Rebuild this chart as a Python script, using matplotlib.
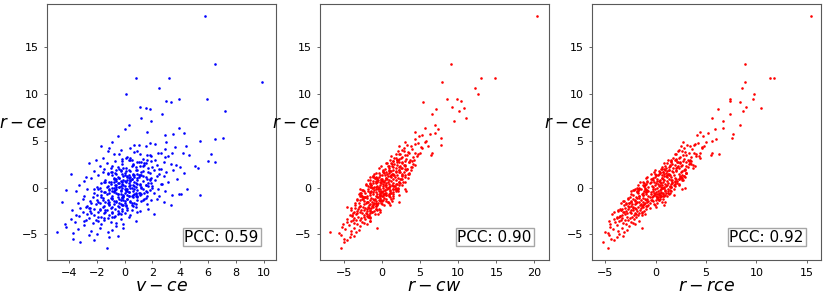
import matplotlib
matplotlib.use('Agg')
import matplotlib.pyplot as plt

# r - ce values (shared y of all three panels)
y = [
    # outliers / tail
    18.4, 13.2, 11.75, 11.7, 11.25, 10.7, 10.0, 9.5, 9.5, 9.3,
    9.2, 8.6, 8.5, 8.4, 8.2, 7.9, 7.4, 7.1, 6.7, 6.4,
    6.3, 5.7, 5.6, 5.3, 5.2, 5.0,
    # band 4..5
    4.9, 4.7, 4.5, 4.4, 4.3, 4.2, 4.1, 4.6, 4.8, 4.0,
    # band 3..4
    3.9, 3.8, 3.7, 3.6, 3.5, 3.4, 3.3, 3.2, 3.1, 3.0,
    3.95, 3.75, 3.55, 3.45, 3.25, 3.15, 3.05, 3.65,
    # band 2..3
    2.95, 2.9, 2.85, 2.8, 2.75, 2.7, 2.65, 2.6, 2.55, 2.5,
    2.45, 2.4, 2.35, 2.3, 2.25, 2.2, 2.15, 2.1, 2.05, 2.0,
    2.92, 2.68, 2.42, 2.18, 2.72, 2.33,
    # band 1..2
    1.97, 1.93, 1.9, 1.86, 1.82, 1.78, 1.74, 1.7, 1.66, 1.62,
    1.58, 1.54, 1.5, 1.46, 1.42, 1.38, 1.34, 1.3, 1.26, 1.22,
    1.18, 1.14, 1.1, 1.06, 1.02, 1.88, 1.64, 1.44, 1.24, 1.08,
    1.56, 1.32,
    # band 0..1
    0.98, 0.95, 0.92, 0.89, 0.86, 0.83, 0.8, 0.77, 0.74, 0.71,
    0.68, 0.65, 0.62, 0.59, 0.56, 0.53, 0.5, 0.47, 0.44, 0.41,
    0.38, 0.35, 0.32, 0.29, 0.26, 0.23, 0.2, 0.17, 0.14, 0.11,
    0.08, 0.05, 0.02, 0.9, 0.6, 0.3, 0.15, 0.72,
    # band -1..0
    -0.02, -0.05, -0.08, -0.11, -0.14, -0.17, -0.2, -0.23, -0.26, -0.29,
    -0.32, -0.35, -0.38, -0.41, -0.44, -0.47, -0.5, -0.53, -0.56, -0.59,
    -0.62, -0.65, -0.68, -0.71, -0.74, -0.77, -0.8, -0.83, -0.86, -0.89,
    -0.92, -0.95, -0.98, -0.1, -0.4, -0.7, -0.9, -0.25, -0.55, -0.85,
    # band -2..-1
    -1.02, -1.05, -1.08, -1.11, -1.14, -1.17, -1.2, -1.23, -1.26, -1.29,
    -1.32, -1.35, -1.38, -1.41, -1.44, -1.47, -1.5, -1.53, -1.56, -1.59,
    -1.62, -1.65, -1.68, -1.71, -1.74, -1.77, -1.8, -1.83, -1.86, -1.89,
    -1.92, -1.95, -1.98, -1.3, -1.6, -1.9,
    # band -3..-2
    -2.03, -2.07, -2.1, -2.13, -2.17, -2.2, -2.23, -2.27, -2.3, -2.33,
    -2.37, -2.4, -2.43, -2.47, -2.5, -2.53, -2.57, -2.6, -2.63, -2.67,
    -2.7, -2.73, -2.77, -2.8, -2.83, -2.87, -2.9, -2.93, -2.97, -2.45,
    # band -4..-3
    -3.05, -3.1, -3.15, -3.2, -3.25, -3.3, -3.35, -3.4, -3.45, -3.5,
    -3.55, -3.6, -3.65, -3.7, -3.75, -3.8, -3.85, -3.9, -3.95, -3.48,
    # band -5..-4
    -4.05, -4.15, -4.25, -4.35, -4.45, -4.55, -4.65, -4.75, -4.85, -4.95,
    # band -6..-5
    -5.1, -5.3, -5.45, -5.6, -5.2,
    # extras
    -4.7, -5.85, -6.5, 1.5, -1.5, -0.8, -0.7, -0.7, 3.6, 2.8,
    2.7, 2.3, 2.1, 4.5, -0.35, -4.3, 0.0,
    5.9, 5.5, 4.9, 4.6, 3.7, 3.5, 4.2, 5.8,
    # dense core
    2.6, -0.4, 1.1, -1.8, 0.3, -2.7, 1.9, -0.9, 0.6, -1.3,
    -0.1, 3.2, -2.2, 0.9, -1.1, 1.6, -3.1, 0.1, 2.2, -0.6,
    1.3, -1.6, 0.5, -0.2, 2.9, -2.4, 0.8, -0.7, 1.7, -1.0,
    -0.3, 0.2, -1.9, 1.4, -0.8, 2.4, -1.4, 0.0, -2.9, 1.0,
    0.7, -1.2, 1.8, -0.5, -2.1, 0.4, -0.9, 2.0, -1.7, 3.4,
    -0.6, 1.2, -2.5, 0.1, -1.5, 0.9, -0.2, 1.5, -3.3, 0.4,
    2.1, -1.0, 0.6, -0.1, -2.3, 1.1, -1.3, 0.3, 2.7, -0.8,
    -1.8, 0.5, -0.4, 1.9, -2.6, 0.0, 1.4, -1.1, 0.8, -0.3,
    1.6, -2.0, 0.2, -0.7, 3.0, -1.4, 0.9, -0.5, -3.6, 1.3,
    -1.0, 0.4, 2.3, -1.6, -0.2, 1.0, -2.8, 0.6, -0.9, 1.8,
    -0.5, 1.5, -1.3, 0.3, -2.0, 2.5, -0.1, 0.7, -1.7, -0.4,
    0.9, -2.3, 1.2, -0.8, 0.1, -1.2, 2.8, -0.3, 1.7, -3.0,
    0.0, -1.4, 0.5, 1.1, -0.6, -2.2, 1.9, -1.0, 0.3, 2.3,
    -0.2, -1.9, 1.4, -0.7, 0.6, -1.5, 0.2, -2.6, 1.0, -0.4,
    1.1, -0.9, 3.6, -1.2, 0.0, -3.2, 0.8, -0.6, 2.0, -2.4,
]

# v - ce
x_vce = [
    5.8, 6.5, 0.8, 3.2, 9.9, 2.5, 0.1, 5.9, 3.9, 3.0,
    3.3, 1.1, 1.5, 1.8, 7.2, 2.7, 1.2, 1.9, 0.3, 3.9,
    0.05, 3.5, 2.9, 7.1, 6.5, 5.4,
    -0.9, 2.2, -1.7, 1.5, 3.6, 0.4, 2.9, 1.0, 1.8, -0.3,
    -1.2, 0.7, 2.6, -0.4, 1.8, 3.1, 0.2, -1.6, 1.3, 2.2,
    0.9, 4.2, -0.8, 1.6, 2.9, 0.4, -0.2, 3.4,
    -2.1, 0.3, 1.9, -0.7, 2.8, 0.9, -1.3, 1.4, 3.3, -0.2,
    0.6, 2.3, -1.8, 1.1, -0.5, 4.0, 0.1, 1.7, -1.0, 2.6,
    0.5, -2.6, 3.7, 0.8, 1.2, -0.9,
    -1.5, 0.8, 2.1, -0.3, 1.3, -2.2, 0.4, 3.0, -0.9, 1.7,
    0.0, -1.2, 2.5, 0.6, -0.6, 1.0, -1.9, 0.3, 2.8, -0.1,
    1.5, -2.8, 0.7, 1.9, -0.4, 3.5, -1.6, 0.9, 0.2, -0.8,
    4.3, 1.2,
    -2.4, 0.5, 1.6, -0.8, 0.2, 2.2, -1.4, 0.9, -0.3, 1.3,
    -2.9, 0.1, 3.1, -1.0, 0.7, -0.5, 1.9, -1.7, 0.3, 2.6,
    -0.2, 1.1, -3.3, 0.6, -0.7, 1.5, -1.2, 0.0, 2.0, -2.0,
    0.8, -0.4, 1.2, 3.8, -1.1, 0.4, 1.7, -0.6,
    0.4, -1.8, 1.2, -0.6, 2.4, -2.7, 0.1, 0.9, -1.1, 1.8,
    -0.3, -3.5, 0.6, 2.9, -1.5, 0.3, -0.8, 1.4, -2.2, 0.0,
    2.1, -0.5, -1.3, 0.8, 3.4, -2.0, 0.2, 1.1, -0.9, -2.9,
    0.5, 1.6, -0.2, 4.5, -1.7, 0.7, 2.5, -4.2, 1.0, -0.1,
    -2.3, 0.6, -0.9, 1.5, -1.6, 0.2, 2.3, -0.4, -3.0, 0.9,
    -1.2, 1.9, -0.1, -2.5, 0.4, 1.2, -1.9, -0.6, 2.8, -1.4,
    0.0, -3.4, 0.7, -0.8, 1.6, -2.1, -0.3, 0.5, -1.1, 3.3,
    -2.7, 0.1, -0.5, 1.3, -1.8, -0.2,
    -2.8, -0.4, 0.8, -1.6, -3.2, 0.2, -1.0, 1.7, -2.2, -0.7,
    -3.8, 0.5, -1.3, -2.5, 1.1, -0.2, -1.9, 0.9, -3.0, -0.9,
    -2.4, 0.0, -1.5, 2.1, -2.7, -0.5, -1.1, -3.5, 0.4, -1.8,
    -3.3, -0.8, -1.9, 0.3, -2.6, -1.2, -3.9, -0.3, -2.1, -1.5,
    0.8, -2.9, -1.0, -3.6, -0.6, -2.3, -4.3, -1.7, -0.1, -2.8,
    -2.9, -0.6, -4.2, -1.8, -3.4, -0.9, -2.4, -1.2, -3.7, -2.0,
    -2.6, -1.1, -3.7, -2.2, -0.5,
    -4.9, -3.2, -1.3, -3.9, -4.5, 5.45, 3.9, 4.05, 6.2, 6.0,
    6.5, 5.05, 5.3, 4.45, 1.5, -0.1, 2.0,
    1.6, -0.5, 3.0, 0.7, 2.4, 4.6, -1.1, 4.3,
    1.5, -0.8, 0.2, -1.1, -0.6, -0.4, 0.9, 0.3, -1.4, -2.0,
    0.7, 0.1, -2.6, 1.8, -0.2, -0.7, -1.7, -1.3, 2.0, 1.1,
    -0.9, 0.5, 0.8, -1.9, 0.4, -1.4, -0.1, -0.5, 1.2, 0.9,
    -0.3, 0.3, 0.1, 0.6, -1.7, 1.4, -0.8, 0.5, -2.2, -0.4,
    0.0, 1.4, -0.3, 1.6, -0.9, -1.0, 0.8, 2.5, -1.2, 1.9,
    -1.1, 2.3, -0.5, -0.6, 0.4, 0.5, -2.2, -0.2, -1.5, 2.7,
    -0.1, -0.5, -0.8, 0.2, -0.2, 1.0, -1.6, 1.5, 1.0, 0.6,
    0.8, -0.4, 0.2, -0.6, -0.9, -0.8, 1.1, -1.0, 0.4, -0.7,
    1.8, -1.5, -0.3, 1.2, 1.6, 0.0, -0.6, -1.4, -1.9, 0.7,
    -0.1, 0.9, 0.5, -2.4, 0.0, 0.3, -0.3, -0.2, 0.9, 0.1,
    0.3, -1.2, -0.3, 1.1, 0.6, 0.6, -1.1, 0.4, -0.4, -0.9,
    -0.7, -1.8, 1.3, -0.1, -0.4, 0.2, -0.2, 0.1, -1.0, -0.7,
    -0.2, -0.6, 1.7, -0.5, 0.8, -2.5, 0.3, -1.7, -0.1, 1.3,
    1.3, -0.1, 0.0, -0.3, -1.5, -1.1, 0.7, -1.4, 0.9, 0.1,
    0.4, 0.3, 1.1, -0.9, -0.9, -0.9, 1.8, -0.6, -0.4, 0.2,
]

# r - cw
x_rcw = [
    20.3, 9.0, 13.0, 14.8, 7.9, 12.2, 12.6, 8.6, 9.9, 10.4,
    5.4, 9.2, 10.7, 7.1, 10.1, 6.6, 11.0, 9.5, 7.0, 5.7,
    7.4, 6.3, 5.2, 7.8, 4.3, 5.8,
    3.0, 4.4, 2.2, 3.8, 5.1, 2.9, 4.0, 3.3, 4.8, 2.6,
    2.1, 3.4, 4.3, 2.4, 3.0, 4.6, 2.7, 1.9, 3.2, 3.7,
    2.9, 5.0, 1.8, 3.3, 4.1, 2.5, 2.2, 3.6,
    1.1, 2.0, 3.1, 1.5, 3.6, 2.3, 1.2, 2.7, 4.1, 1.6,
    2.0, 2.9, 0.8, 2.4, 1.4, 3.8, 1.8, 2.5, 1.0, 3.3,
    2.1, 0.6, 4.4, 2.2, 2.6, 1.3,
    0.4, 1.4, 2.3, 0.9, 1.8, 0.1, 1.1, 2.9, 0.6, 1.9,
    1.0, 0.3, 2.6, 1.3, 0.7, 1.6, 0.0, 1.2, 2.7, 0.8,
    1.7, -0.4, 1.2, 2.1, 0.5, 3.2, 0.2, 1.5, 1.1, 0.6,
    3.6, 1.5,
    -0.6, 0.7, 1.5, 0.0, 0.4, 1.9, -0.5, 0.9, 0.2, 1.2,
    -1.1, 0.3, 2.2, -0.3, 0.8, -0.1, 1.4, -0.8, 0.5, 1.8,
    0.1, 1.0, -1.4, 0.6, -0.2, 1.3, -0.6, 0.2, 1.6, -1.0,
    0.5, -0.4, 0.9, 2.7, -0.7, 0.4, 1.1, 0.0,
    0.1, -1.3, 0.8, -0.5, 1.5, -1.8, -0.2, 0.4, -1.0, 1.1,
    -0.4, -2.3, 0.2, 1.9, -1.2, -0.1, -0.7, 0.6, -1.6, -0.3,
    1.2, -0.6, -1.1, 0.3, 2.3, -1.5, -0.2, 0.5, -0.8, -2.0,
    0.0, 0.9, -0.5, 3.0, -1.4, 0.2, 1.4, -2.6, 0.4, -0.3,
    -2.2, -0.6, -1.4, 0.3, -1.9, -0.9, 0.6, -1.2, -2.6, -0.4,
    -1.6, 0.1, -1.0, -2.4, -0.7, -0.2, -2.0, -1.3, 0.8, -1.8,
    -1.0, -3.0, -0.5, -1.5, 0.0, -2.3, -1.1, -0.6, -1.7, 1.1,
    -2.8, -0.8, -1.3, -0.3, -2.1, -1.2,
    -3.0, -1.8, -1.2, -2.5, -3.5, -1.4, -2.2, -0.7, -3.1, -2.0,
    -4.0, -1.5, -2.4, -3.3, -1.0, -1.9, -2.8, -1.3, -3.6, -2.1,
    -3.2, -1.6, -2.6, -0.9, -3.4, -2.0, -2.3, -3.9, -1.7, -2.7,
    -3.9, -2.4, -3.1, -1.8, -3.7, -2.7, -4.6, -2.2, -3.4, -2.9,
    -1.6, -4.1, -2.6, -4.5, -2.3, -3.6, -5.1, -3.2, -2.0, -3.8,
    -4.3, -2.8, -5.2, -3.6, -4.8, -3.0, -4.1, -3.4, -5.6, -4.0,
    -5.4, -4.2, -5.0, -4.6, -3.6,
    -6.8, -4.95, -5.35, -1.0, 2.2, 0.6, -0.3, 0.9, 4.7, 4.0,
    2.0, 3.0, 2.6, 6.0, 3.2, -0.6, 1.0,
    4.3, 4.9, 5.6, 7.7, 6.6, 6.5, 5.3, 6.9,
    0.7, 1.1, -1.1, -0.8, 2.2, -3.8, 2.2, -2.6, 2.8, -0.1,
    1.9, 1.6, -4.0, 2.5, -0.3, -0.7, -1.6, -0.8, 3.9, -2.2,
    2.6, -3.5, -1.1, 2.1, 2.0, -0.6, -1.6, 0.3, 2.2, -2.3,
    -2.5, 1.4, 0.3, -0.2, -2.7, 3.1, 0.5, -1.1, -4.2, 3.4,
    -0.6, 1.2, 1.0, 1.4, -4.5, 2.0, -2.7, 3.0, -0.7, 1.2,
    1.1, -1.2, -1.6, -1.4, 0.8, -0.1, -2.8, 3.4, -1.6, -1.5,
    -0.4, -2.2, 3.1, -0.7, -0.8, 3.1, -3.2, -1.4, 3.6, 1.0,
    -0.6, -1.6, -1.8, 0.2, -0.2, 1.9, 3.0, 1.4, -1.8, 0.4,
    -0.4, -2.9, 1.7, -3.0, 4.2, 1.3, -0.6, 0.0, -1.5, 0.4,
    1.1, -2.1, 0.9, -0.1, 0.7, -0.9, -0.5, 2.2, -2.9, 1.2,
    -1.5, 3.6, -2.9, -2.1, -0.7, 1.3, 1.7, -0.7, 0.9, -0.1,
    2.4, -0.4, -1.1, -0.2, -1.5, -3.2, 1.4, 2.0, 2.4, -1.9,
    -0.5, 0.0, 2.4, -0.8, -2.8, -1.7, 3.8, -2.5, 2.7, -0.1,
    1.4, -3.5, 2.0, 1.5, -0.6, -2.0, -1.8, -1.3, -0.9, 2.1,
    -1.5, 0.1, 2.3, -2.5, 2.1, -1.7, -0.1, -2.7, 3.3, -0.3,
]

# r - rce
x_rrce = [
    15.4, 8.9, 11.3, 11.7, 8.9, 8.6, 9.8, 7.4, 9.7, 7.4,
    8.4, 9.0, 10.5, 6.2, 8.7, 7.4, 5.6, 6.65, 8.35, 6.7,
    5.9, 7.65, 4.1, 7.55, 6.0, 5.6,
    2.7, 3.9, 2.5, 3.4, 4.6, 2.8, 3.6, 3.1, 4.2, 2.3,
    2.2, 2.9, 3.8, 2.0, 2.7, 4.0, 2.4, 1.7, 2.8, 3.2,
    2.6, 4.4, 1.9, 3.0, 3.5, 2.3, 2.0, 3.3,
    1.2, 1.9, 2.7, 1.5, 3.0, 2.1, 1.1, 2.4, 3.5, 1.6,
    1.9, 2.6, 0.9, 2.2, 1.3, 3.2, 1.7, 2.3, 1.0, 2.9,
    2.0, 0.8, 3.7, 2.1, 2.4, 1.4,
    0.6, 1.3, 2.0, 0.9, 1.6, 0.3, 1.1, 2.5, 0.7, 1.7,
    1.0, 0.4, 2.3, 1.2, 0.8, 1.4, 0.2, 1.1, 2.4, 0.8,
    1.5, -0.1, 1.1, 1.9, 0.6, 2.8, 0.4, 1.3, 1.0, 0.6,
    3.0, 1.3,
    -0.3, 0.7, 1.3, 0.1, 0.4, 1.6, -0.3, 0.8, 0.3, 1.1,
    -0.8, 0.4, 1.9, -0.2, 0.7, 0.0, 1.2, -0.6, 0.5, 1.5,
    0.2, 0.9, -1.0, 0.6, -0.1, 1.1, -0.4, 0.3, 1.4, -0.7,
    0.5, -0.3, 0.8, 2.3, -0.5, 0.4, 1.0, 0.1,
    0.1, -1.0, 0.7, -0.3, 1.2, -1.4, -0.1, 0.4, -0.8, 0.9,
    -0.3, -1.8, 0.2, 1.5, -0.9, 0.0, -0.5, 0.5, -1.2, -0.2,
    1.0, -0.5, -0.9, 0.3, 1.8, -1.2, -0.2, 0.4, -0.7, -1.6,
    0.0, 0.7, -0.4, 2.6, -1.1, 0.1, 1.1, -2.1, 0.3, -0.3,
    -1.9, -0.6, -1.2, 0.1, -1.6, -0.8, 0.4, -1.0, -2.2, -0.5,
    -1.4, 0.0, -0.9, -2.0, -0.7, -0.3, -1.8, -1.2, 0.6, -1.6,
    -1.0, -2.6, -0.6, -1.4, -0.2, -2.0, -1.1, -0.7, -1.5, 0.8,
    -2.4, -0.9, -1.3, -0.4, -1.9, -1.2,
    -2.6, -1.7, -1.2, -2.2, -3.0, -1.4, -2.0, -0.9, -2.7, -1.9,
    -3.4, -1.5, -2.2, -2.9, -1.1, -1.8, -2.5, -1.3, -3.1, -2.0,
    -2.8, -1.6, -2.4, -1.0, -3.0, -1.9, -2.1, -3.3, -1.7, -2.4,
    -3.5, -2.3, -2.8, -1.9, -3.3, -2.5, -4.1, -2.1, -3.0, -2.7,
    -1.6, -3.6, -2.4, -4.0, -2.2, -3.2, -4.5, -2.9, -2.0, -3.4,
    -3.8, -2.6, -4.5, -3.3, -4.2, -2.8, -3.7, -3.1, -4.7, -3.6,
    -4.6, -3.8, -4.4, -4.1, -3.2,
    -5.0, -5.2, -4.7, 0.3, 0.9, 0.3, -0.1, 0.7, 6.3, 3.3,
    2.2, 2.5, 2.0, 4.8, 1.2, -1.3, 2.9,
    4.4, 4.7, 5.0, 3.8, 5.6, 5.5, 4.6, 5.2,
    3.4, -1.7, 2.5, -2.3, -1.2, -1.3, 1.3, 0.5, -1.2, -2.0,
    -1.6, 4.4, -0.6, -0.4, -1.8, 3.0, -3.6, 1.5, 0.6, 0.7,
    0.0, 0.1, 1.6, -2.0, 3.4, -3.4, 2.6, -1.3, -0.2, 0.1,
    1.4, -1.1, -3.1, 2.6, 0.9, 1.4, -3.1, 0.8, -1.3, -0.9,
    2.1, -2.7, 2.6, -1.8, 0.0, -0.9, 0.5, 0.8, -2.9, 4.3,
    -1.7, 2.8, -3.7, 1.4, -2.4, 2.3, 1.8, -0.1, -3.8, 1.9,
    3.7, 0.2, -1.5, 0.5, -3.3, -0.8, 0.3, 1.8, 1.5, -2.2,
    -2.9, 2.1, 0.9, 2.9, -4.1, -1.6, 0.0, -2.7, 2.7, -0.9,
    3.0, -0.8, -1.1, 1.3, 1.5, -3.2, 2.0, -0.9, -4.6, 1.8,
    -2.5, 2.3, 3.0, -2.6, -1.0, 2.6, -4.3, -0.8, 0.8, 2.0,
    0.5, -0.5, 0.3, 2.3, -2.7, 3.3, -1.7, 1.9, -3.4, -0.7,
    -0.5, -3.5, 2.8, -1.2, 1.5, 0.7, 3.5, -2.2, 0.7, -3.5,
    0.6, -2.4, -1.1, 2.4, 1.4, -2.2, -0.1, 0.4, -1.7, 3.9,
    -1.6, -0.1, 0.6, -2.4, 1.6, -0.8, 1.9, -3.2, 2.5, -2.4,
    2.9, -1.6, 4.0, 0.2, -1.8, -3.8, 1.5, 1.2, 0.5, -3.7,
]

x_series = [x_vce, x_rcw, x_rrce]
x_labels = ['$v-ce$', '$r-cw$', '$r-rce$']
y_label = '$r-ce$'
colors = ['blue', 'red', 'red']
pcc = [0.59, 0.90, 0.92]
x_ticks = [[-4, -2, 0, 2, 4, 6, 8, 10], [-5, 0, 5, 10, 15, 20], [-5, 0, 5, 10, 15]]
x_lims = [(-5.6, 10.9), (-8.1, 21.9), (-6.3, 16.4)]

fig = plt.figure(figsize=(8.31, 2.94), dpi=100)
lefts = [47, 320, 592]

for i in range(3):
    ax = fig.add_axes([lefts[i] / 831., 1 - 260 / 294., 229 / 831., 256 / 294.])
    ax.scatter(x_series[i], y, s=3.5, c=colors[i], linewidths=0)
    ax.set_xlim(x_lims[i])
    ax.set_ylim(-7.75, 19.65)
    ax.set_xticks(x_ticks[i])
    ax.set_yticks([-5, 0, 5, 10, 15])
    ax.tick_params(labelsize=8, length=2.5, width=0.6, color='0.3')
    for sp in ax.spines.values():
        sp.set_color('0.35')
        sp.set_linewidth(0.8)
    ax.set_xlabel(x_labels[i], fontsize=12.5, labelpad=-1)
    ax.set_ylabel(y_label, fontsize=12, rotation=0, ha='right', va='center')
    ax.yaxis.set_label_coords(0.0, 0.535)
    ax.text(0.925, 0.06, 'PCC: %.2f' % pcc[i], transform=ax.transAxes,
            ha='right', va='bottom', fontsize=11,
            bbox=dict(boxstyle='square,pad=0.12', fc='white', ec='0.65', lw=1.0))

fig.savefig('out.png', dpi=100)
